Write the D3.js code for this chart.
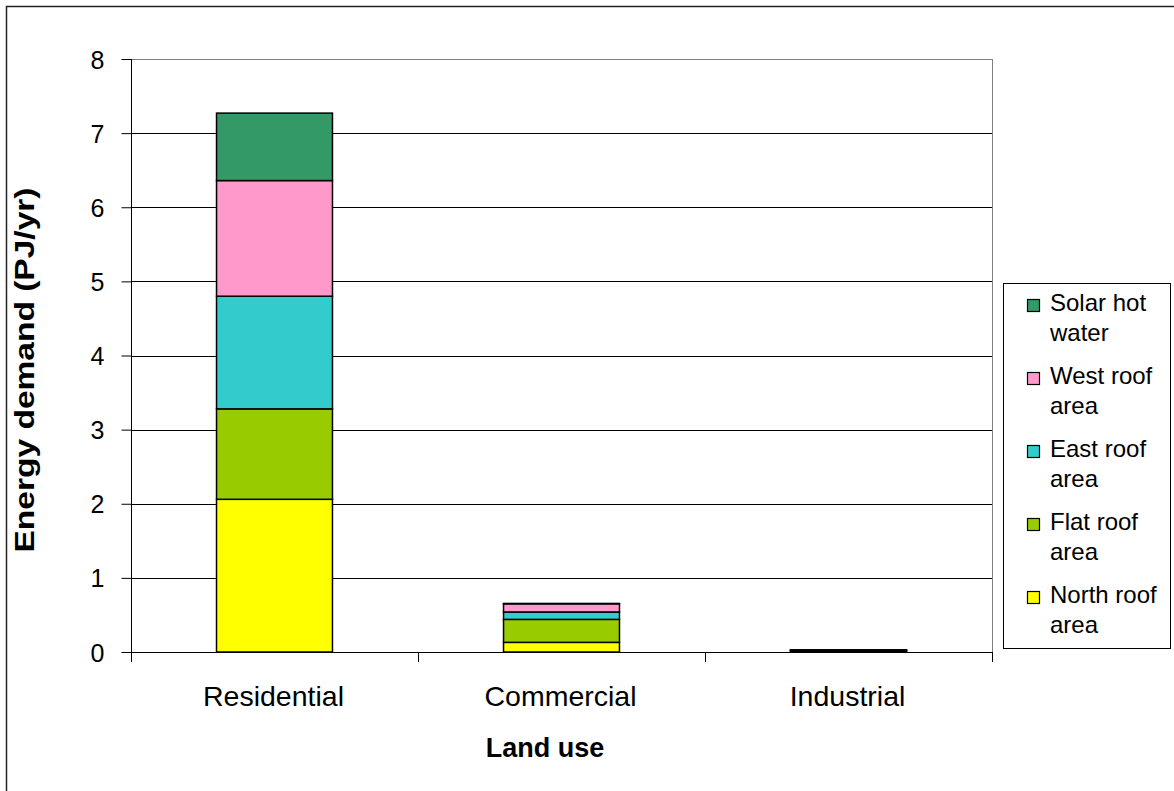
<!DOCTYPE html>
<html>
<head>
<meta charset="utf-8">
<script src="https://cdn.jsdelivr.net/npm/d3@7"></script>
<style>
  html, body { margin: 0; padding: 0; background: #fff; }
  svg { display: block; font-family: "Liberation Sans", Arial, sans-serif; }
</style>
</head>
<body>
<svg id="chart" width="1174" height="791"></svg>
<script>
// Land use categories
const categories = ["Residential", "Commercial", "Industrial"];

// Stacked components (PJ/yr), bottom to top
const seriesNames = ["North roof area", "Flat roof area", "East roof area", "West roof area", "Solar hot water"];
const northRoof = [2.06, 0.13, 0.01];
const flatRoof  = [1.22, 0.31, 0.01];
const eastRoof  = [1.52, 0.10, 0.005];
const westRoof  = [1.56, 0.11, 0.005];
const solarHot  = [0.91, 0.005, 0.0];

const seriesColors = ["#FFFF00", "#99CC00", "#33CCCC", "#FF99CC", "#339966"];
const yTicks = [0, 1, 2, 3, 4, 5, 6, 7, 8];

const rows = categories.map((c, i) => ({
  category: c,
  "North roof area": northRoof[i],
  "Flat roof area": flatRoof[i],
  "East roof area": eastRoof[i],
  "West roof area": westRoof[i],
  "Solar hot water": solarHot[i]
}));

const svg = d3.select("#chart");
const plot = { left: 131, right: 992, top: 59, bottom: 652 };

// Outer chart border
svg.append("rect")
  .attr("x", 6.5).attr("y", 6.5)
  .attr("width", 1300).attr("height", 1000)
  .attr("fill", "none").attr("stroke", "#222").attr("stroke-width", 1.5);

const x = d3.scaleBand().domain(categories).range([plot.left, plot.right]).padding(0);
const y = d3.scaleLinear().domain([0, 8]).range([plot.bottom, plot.top]);
const barWidth = x.bandwidth() * 0.404;

// Plot area frame (grey) and horizontal gridlines
svg.append("rect")
  .attr("x", plot.left + 0.5).attr("y", plot.top + 0.5)
  .attr("width", plot.right - plot.left).attr("height", plot.bottom - plot.top)
  .attr("fill", "none").attr("stroke", "#808080").attr("stroke-width", 1);

svg.append("g")
  .selectAll("line")
  .data(yTicks.filter(t => t > 0 && t < 8))
  .join("line")
  .attr("x1", plot.left).attr("x2", plot.right)
  .attr("y1", d => Math.round(y(d)) + 0.5).attr("y2", d => Math.round(y(d)) + 0.5)
  .attr("stroke", "#000").attr("stroke-width", 1);

// Stacked bars
const stack = d3.stack().keys(seriesNames);
const layers = stack(rows);

svg.append("g")
  .selectAll("g")
  .data(layers)
  .join("g")
  .attr("fill", (d, i) => seriesColors[i])
  .selectAll("rect")
  .data(d => d)
  .join("rect")
  .attr("x", d => x(d.data.category) + (x.bandwidth() - barWidth) / 2)
  .attr("y", d => y(d[1]))
  .attr("width", barWidth)
  .attr("height", d => Math.max(0, y(d[0]) - y(d[1])))
  .attr("stroke", "#000")
  .attr("stroke-width", 1.5);

// Y axis
const yAxis = d3.axisLeft(y).tickValues(yTicks).tickSize(10).tickPadding(17).tickFormat(d3.format("d"));
const yg = svg.append("g")
  .attr("transform", `translate(${plot.left + 0.5},0)`)
  .call(yAxis);
yg.select(".domain").attr("stroke", "#000").attr("d", `M0,${plot.top}V${plot.bottom + 9}`);
yg.selectAll(".tick line").attr("stroke", "#000");
yg.selectAll(".tick text")
  .attr("font-size", 25)
  .attr("fill", "#000")
  .attr("dy", "0.36em")
  .attr("font-family", "'Liberation Sans', Arial, sans-serif");

// X axis: ticks at category boundaries
const boundaries = [plot.left, ...categories.slice(1).map(c => x(c)), plot.right];
const xg = svg.append("g");
xg.append("line")
  .attr("x1", plot.left).attr("x2", plot.right)
  .attr("y1", plot.bottom + 0.5).attr("y2", plot.bottom + 0.5)
  .attr("stroke", "#000");
xg.selectAll("line.tk")
  .data(boundaries)
  .join("line")
  .attr("class", "tk")
  .attr("x1", d => Math.round(d) + 0.5).attr("x2", d => Math.round(d) + 0.5)
  .attr("y1", plot.bottom).attr("y2", plot.bottom + 10)
  .attr("stroke", "#000");
xg.selectAll("text")
  .data(categories)
  .join("text")
  .attr("x", d => x(d) + x.bandwidth() / 2 - 1)
  .attr("y", 706)
  .attr("text-anchor", "middle")
  .attr("font-size", 28.5)
  .attr("fill", "#000")
  .text(d => d);

// Axis titles
svg.append("text")
  .attr("x", 545).attr("y", 757)
  .attr("text-anchor", "middle")
  .attr("font-size", 27)
  .attr("font-weight", "bold")
  .text("Land use");

svg.append("text")
  .attr("transform", "translate(34,370) rotate(-90)")
  .attr("text-anchor", "middle")
  .attr("font-size", 27)
  .attr("font-weight", "bold")
  .attr("textLength", 365)
  .attr("lengthAdjust", "spacingAndGlyphs")
  .text("Energy demand (PJ/yr)");

// Legend (top entry is the top of the stack)
const legendLines = [
  ["Solar hot", "water"],
  ["West roof", "area"],
  ["East roof", "area"],
  ["Flat roof", "area"],
  ["North roof", "area"]
];
const legendColors = seriesColors.slice().reverse();
const legend = svg.append("g");
legend.append("rect")
  .attr("x", 1003.5).attr("y", 283.5)
  .attr("width", 167).attr("height", 365)
  .attr("fill", "#fff").attr("stroke", "#000").attr("stroke-width", 1);

const entry = legend.selectAll("g.entry")
  .data(legendLines)
  .join("g")
  .attr("class", "entry")
  .attr("transform", (d, i) => `translate(0,${311 + 73 * i})`);
entry.append("rect")
  .attr("x", 1027.5).attr("y", -11.5)
  .attr("width", 12).attr("height", 12)
  .attr("fill", (d, i) => legendColors[i])
  .attr("stroke", "#000").attr("stroke-width", 1.2);
entry.append("text")
  .attr("x", 1050).attr("y", 0)
  .attr("font-size", 24)
  .text(d => d[0]);
entry.append("text")
  .attr("x", 1050).attr("y", 30)
  .attr("font-size", 24)
  .text(d => d[1]);
</script>
</body>
</html>
